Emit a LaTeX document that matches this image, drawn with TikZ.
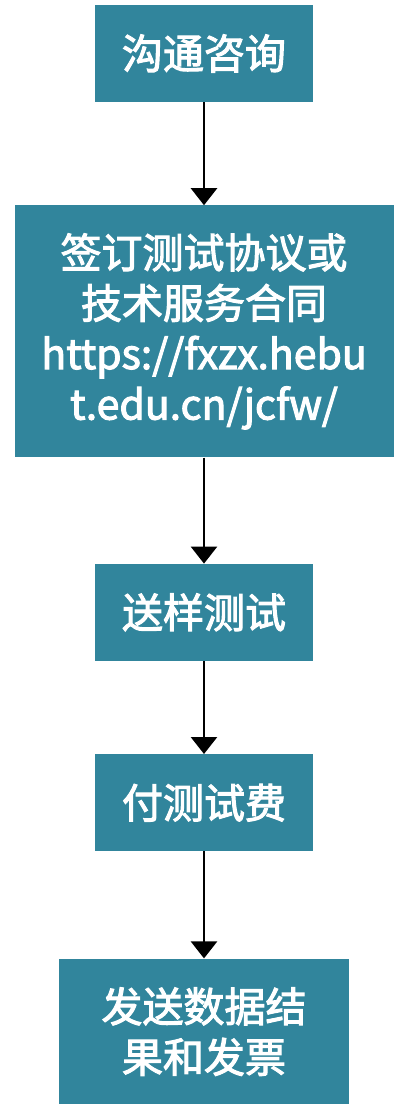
\documentclass[tikz,border=0pt]{standalone}
\usepackage{fontspec}
\setmainfont{Noto Sans CJK SC}[BoldFont=Noto Sans CJK SC, BoldFeatures={FakeBold=2.5}]
\usetikzlibrary{positioning,arrows.meta}
\definecolor{flowteal}{HTML}{31859C}

\begin{document}
\begin{tikzpicture}[
  font=\fontsize{41pt}{50.5pt}\selectfont\bfseries,
  >={Triangle[width=26pt,length=17pt]},
  proc/.style={fill=flowteal, text=white, align=center, inner sep=0pt,
               minimum width=218pt, minimum height=97pt},
  flow/.style={->, line width=2.6pt, black},
]
\useasboundingbox (0,0) rectangle (395pt,-1104pt);
\node[proc] (consult) at (204pt,-53.5pt) {沟通咨询};
\node[proc, below=103pt of consult, minimum width=379pt, minimum height=252pt] (contract)
     {签订测试协议或\\技术服务合同\\https://fxzx.hebu\\t.edu.cn/jcfw/};
\node[proc, below=106pt of contract] (sample) {送样测试};
\node[proc, below=93pt of sample]    (fee)    {付测试费};
\node[proc, below=107pt of fee, minimum width=290pt, minimum height=146pt] (report)
     {发送数据结\\果和发票};
\draw[flow] (consult) -- (contract);
\draw[flow] (contract) -- (sample);
\draw[flow] (sample) -- (fee);
\draw[flow] (fee) -- (report);
\end{tikzpicture}
\end{document}
